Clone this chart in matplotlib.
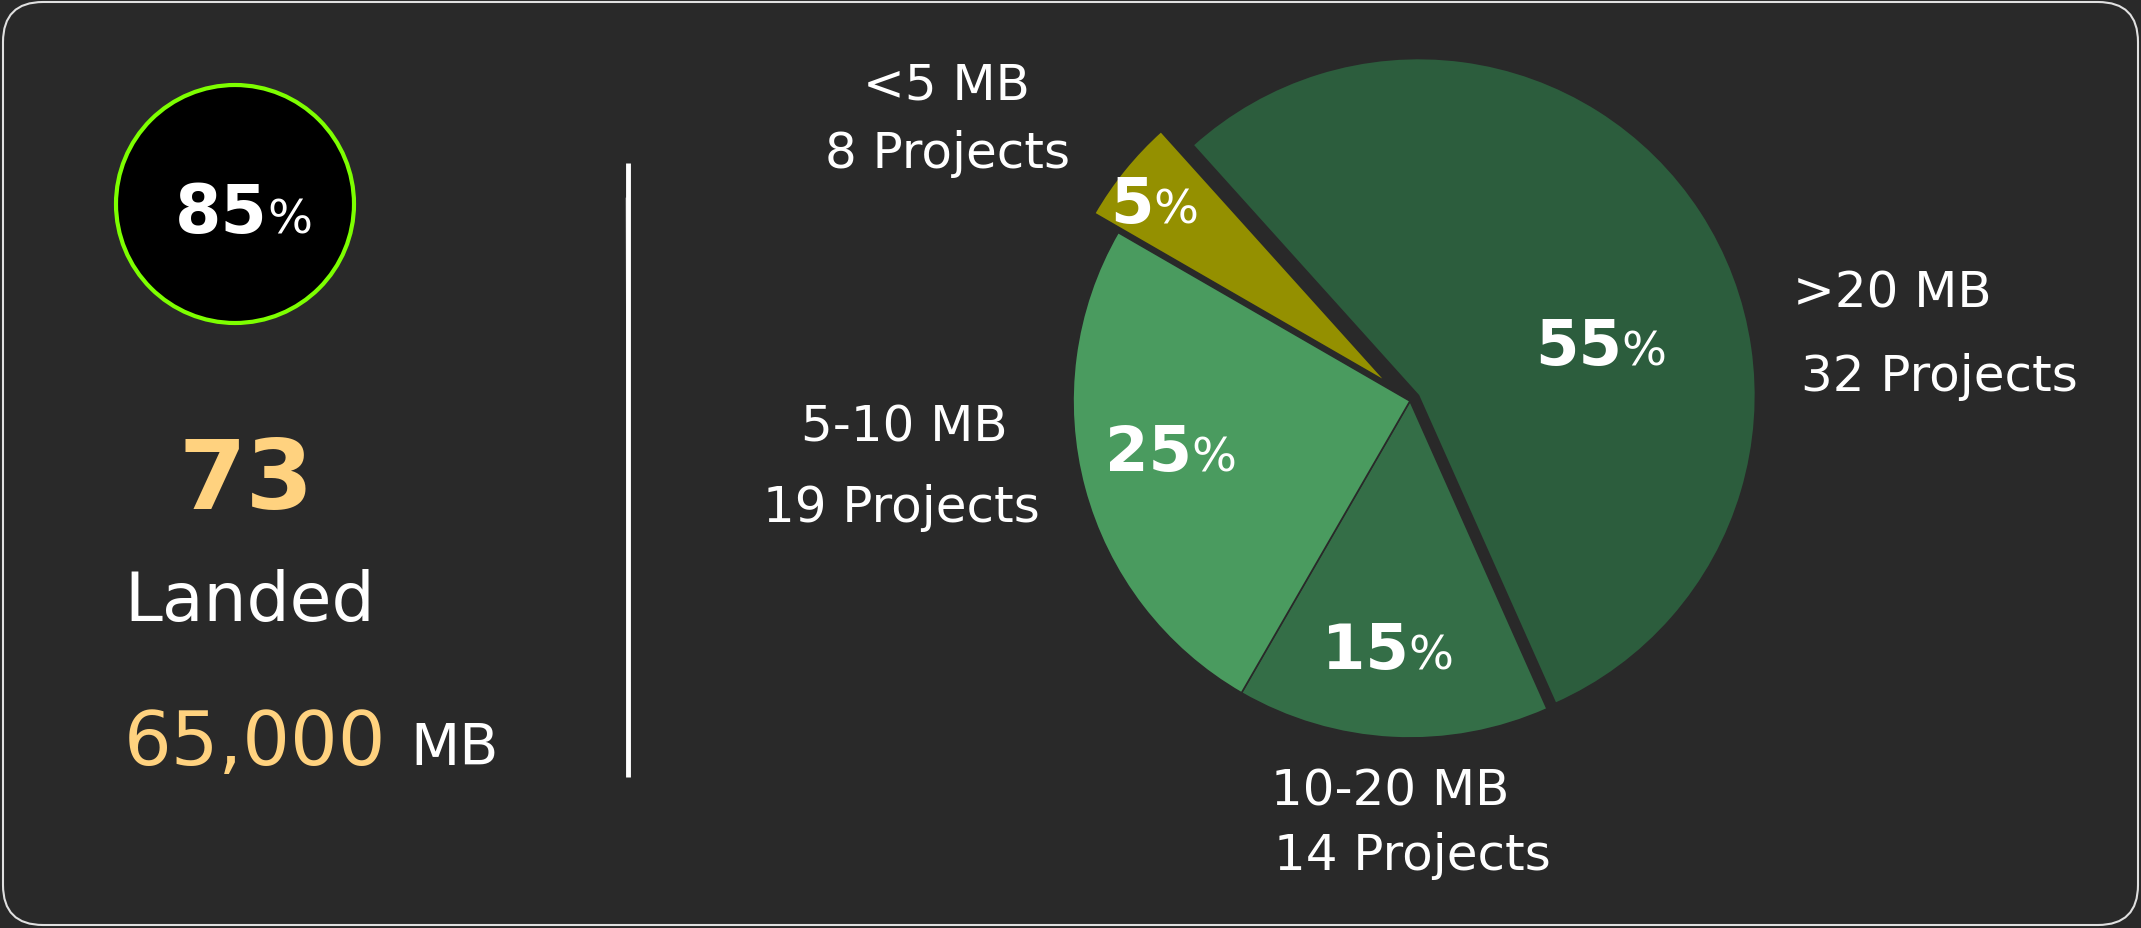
import matplotlib.pyplot as plt
from matplotlib.patches import FancyBboxPatch, Circle

# canvas in pixels
W, H = 2141, 929

# pie data (clockwise from the top-left edge)
sizes = [55, 15, 25, 5]
pct_labels = ["55", "15", "25", "5"]
ranges = [">20 MB", "10-20 MB", "5-10 MB", "<5 MB"]
projects = ["32 Projects", "14 Projects", "19 Projects", "8 Projects"]
colors = ["#2c5d3d", "#346e47", "#4a9b5f", "#949000"]

# left-hand summary
success_pct = "85"
landed_count = "73"
landed_mb = "65,000"

BG = "#292929"
ORANGE = "#ffd27f"
FONT = "DejaVu Sans"

fig = plt.figure(figsize=(W / 100, H / 100), dpi=100)
fig.patch.set_facecolor(BG)
ax = fig.add_axes([0, 0, 1, 1])
ax.set_facecolor(BG)

# pie chart (explode is in data units when a center/radius is given)
R = 337
ax.pie(sizes, colors=colors, explode=[0.03 * R, 0, 0, 0.09 * R],
       startangle=132, counterclock=False,
       center=(1410, H - 402), radius=R,
       wedgeprops=dict(edgecolor=BG, linewidth=1.2))

ax.set_xlim(0, W)
ax.set_ylim(0, H)
ax.set_aspect("equal")
ax.axis("off")

# rounded outer border
ax.add_patch(FancyBboxPatch((3, 3), W - 6, H - 6, boxstyle="round,pad=0,rounding_size=40",
                            facecolor="none", edgecolor="#e0e0e0", linewidth=1.5))

def pct_text(x, y, num, big, small):
    ax.text(x, H - y, num, ha="right", va="baseline", color="white",
            fontsize=big, fontweight="bold", family=FONT)
    ax.text(x - 1, H - y, "%", ha="left", va="baseline", color="white",
            fontsize=small, family=FONT)

# percentages inside slices
pct_pos = [(1622, 365), (1409, 669), (1192, 471), (1154, 223)]
for (x, y), lab in zip(pct_pos, pct_labels):
    pct_text(x, y, lab, 45, 34)

# outside labels
lab_style = dict(color="white", fontsize=36, family=FONT, va="center")
ax.text(1793, H - 294, ranges[0], ha="left", **lab_style)
ax.text(1801, H - 377, projects[0], ha="left", **lab_style)
ax.text(1271, H - 792, ranges[1], ha="left", **lab_style)
ax.text(1274, H - 856, projects[1], ha="left", **lab_style)
ax.text(904, H - 427, ranges[2], ha="center", **lab_style)
ax.text(901, H - 508, projects[2], ha="center", **lab_style)
ax.text(946, H - 85, ranges[3], ha="center", **lab_style)
ax.text(948, H - 154, projects[3], ha="center", **lab_style)

# 85% badge
ax.add_patch(Circle((235, H - 205), 119, facecolor="black", edgecolor="#7dff00", linewidth=3))
pct_text(268, 233, success_pct, 48, 34)

# landed block
ax.text(246, H - 509, landed_count, ha="center", va="baseline", color=ORANGE,
        fontsize=70, fontweight="bold", family=FONT)
ax.text(250, H - 621, "Landed", ha="center", va="baseline", color="white",
        fontsize=49, family=FONT)
ax.text(386, H - 765, landed_mb, ha="right", va="baseline", color=ORANGE,
        fontsize=54, family=FONT)
ax.text(410, H - 765, "MB", ha="left", va="baseline", color="white",
        fontsize=41, family=FONT)

# chalky divider
ax.plot([628, 628], [H - 164, H - 778], color="white", linewidth=3.5, solid_capstyle="butt")
ax.plot([627, 629], [H - 200, H - 760], color="white", linewidth=2, alpha=0.6)

fig.savefig("out.png", dpi=100, facecolor=BG)
